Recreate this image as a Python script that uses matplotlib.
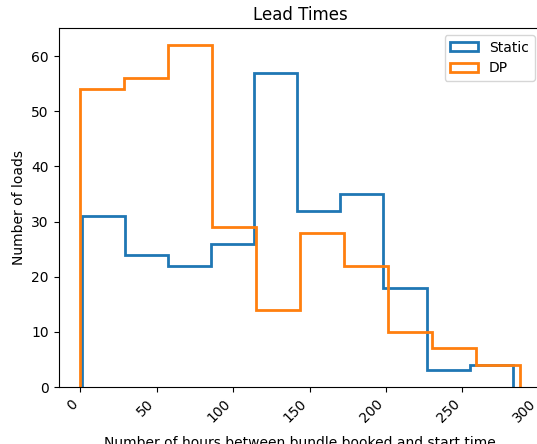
import matplotlib
matplotlib.use('Agg')
import matplotlib.pyplot as plt
import numpy as np

# Bin edges and counts for each booking strategy
static_edges = [1.0, 29.2, 57.4, 85.6, 113.8, 142.0, 170.2, 198.4, 226.6, 254.8, 283.0]
static_counts = [31, 24, 22, 26, 57, 32, 35, 18, 3, 4]

dp_edges = [0.0, 28.75, 57.5, 86.25, 115.0, 143.75, 172.5, 201.25, 230.0, 258.75, 287.5]
dp_counts = [54, 56, 62, 29, 14, 28, 22, 10, 7, 4]

fig = plt.figure(figsize=(5.37, 4.44), dpi=100)
ax = fig.add_axes([58.5 / 537, 57 / 444, 483 / 537, 359 / 444])

ax.hist(static_edges[:-1], bins=static_edges, weights=static_counts,
        histtype='step', linewidth=2, label='Static')
ax.hist(dp_edges[:-1], bins=dp_edges, weights=dp_counts,
        histtype='step', linewidth=2, label='DP')

ax.set_ylim(0, 65.1)
ax.set_xticks(np.arange(0, 301, 50))
plt.setp(ax.get_xticklabels(), rotation=45, ha='right')

ax.set_title('Lead Times')
ax.set_xlabel('Number of hours between bundle booked and start time', labelpad=8)
ax.set_ylabel('Number of loads')
ax.legend(loc='upper right')

fig.savefig('out.png', dpi=100)
